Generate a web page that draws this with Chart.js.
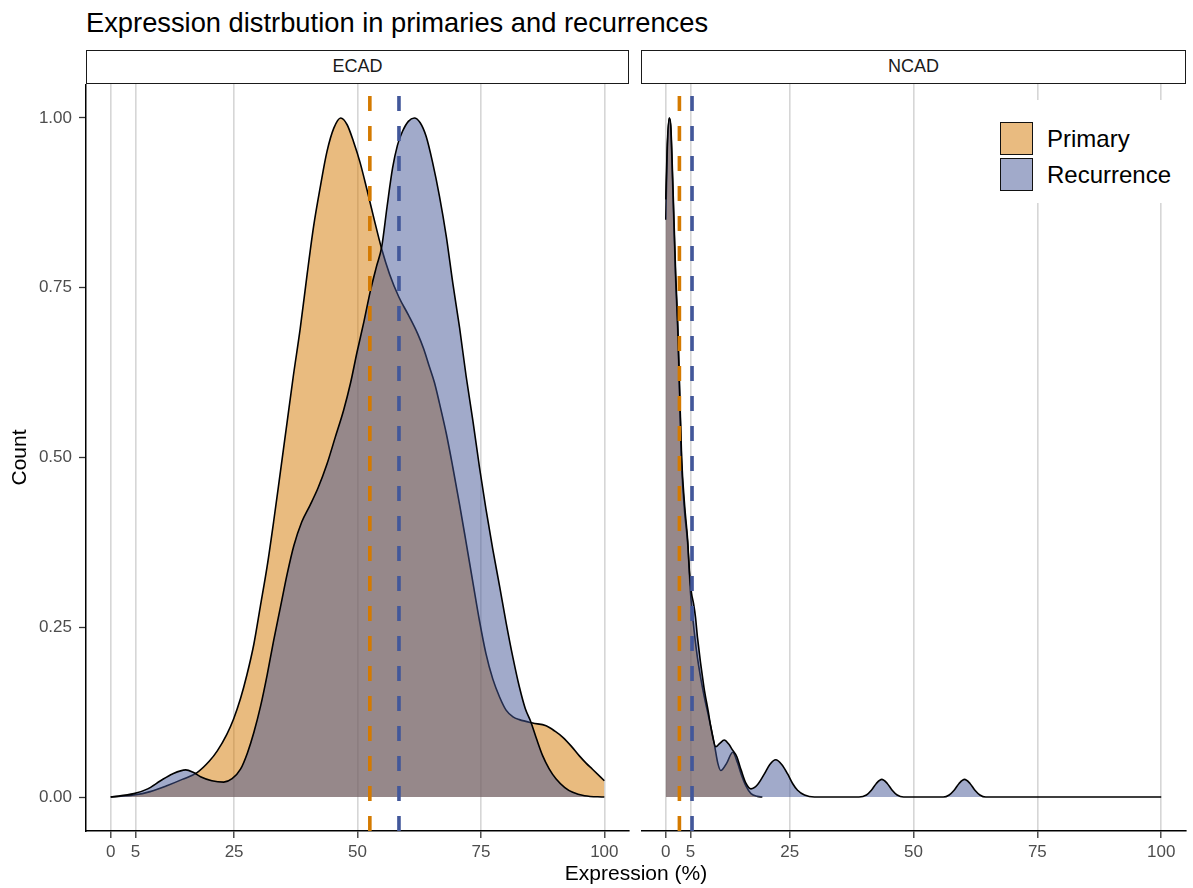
<!DOCTYPE html>
<html>
<head>
<meta charset="utf-8">
<script src="https://cdn.jsdelivr.net/npm/chart.js@4.4.1/dist/chart.umd.min.js"></script>
<style>
  body { margin: 0; background: #fff; font-family: "Liberation Sans", Arial, sans-serif; }
  #wrap { position: relative; width: 1193px; height: 888px; overflow: hidden; background: #fff; }
  #title { position: absolute; left: 86px; top: 9px; font-size: 27.3px; line-height: 27px; color: #000; white-space: nowrap; }
  .strip { position: absolute; top: 50px; height: 34px; box-sizing: border-box; border: 1.5px solid #1a1a1a;
           font-size: 18px; line-height: 31px; text-align: center; color: #1a1a1a; background: #fff; }
  #stripL { left: 86px; width: 543px; }
  #stripR { left: 641px; width: 545px; }
  canvas { position: absolute; top: 84px; }
  #ecadChart { left: 0; }
  #ncadChart { left: 641px; }
  #xTitle { position: absolute; left: 436px; width: 400px; top: 860px; text-align: center; font-size: 21px; line-height: 26px; color: #000; }
  #legend { position: absolute; left: 988px; top: 100px; width: 197px; height: 103px; background: #fff; }
  .key { position: absolute; left: 12px; width: 33px; height: 33px; box-sizing: border-box; border: 1.5px solid #111; }
  .lab { position: absolute; left: 59px; font-size: 24px; line-height: 33px; color: #000; white-space: nowrap; }
</style>
</head>
<body>
<div id="wrap">
  <div id="title">Expression distrbution in primaries and recurrences</div>
  <div class="strip" id="stripL">ECAD</div>
  <div class="strip" id="stripR">NCAD</div>
  <canvas id="ecadChart" width="640" height="804"></canvas>
  <canvas id="ncadChart" width="552" height="804"></canvas>
  <div id="xTitle">Expression (%)</div>
  <div id="legend">
    <div class="key" style="top:22px; background:rgb(233,187,128);"></div>
    <div class="lab" style="top:22px;">Primary</div>
    <div class="key" style="top:58px; background:rgb(161,170,202);"></div>
    <div class="lab" style="top:58px;">Recurrence</div>
  </div>
</div>
<script>
// density curves, [expression %, scaled density]
const ecadPrimary = [
  [0, 0], [4.7, 0.003], [8, 0.008], [11.5, 0.017], [14.5, 0.026], [17.5, 0.036], [20, 0.053],
  [21.6, 0.068], [23.5, 0.092], [24.9, 0.115], [26.3, 0.145], [27.6, 0.18], [29, 0.225],
  [30.3, 0.28], [31.7, 0.34], [33, 0.405], [34.4, 0.48], [35.7, 0.55], [37, 0.62], [38.4, 0.69],
  [39.8, 0.77], [41.1, 0.84], [42.5, 0.9], [43.8, 0.95], [45.2, 0.985], [46.6, 1.0], [47.9, 0.99],
  [49.2, 0.965], [50.5, 0.935], [51.9, 0.895], [53.4, 0.85], [54.9, 0.807], [56.5, 0.77],
  [58.4, 0.736], [60.3, 0.71], [62.2, 0.682], [63.4, 0.66], [64.5, 0.635], [65.6, 0.61],
  [66.6, 0.58], [68, 0.535], [69.3, 0.486], [70.7, 0.43], [72, 0.375], [73.4, 0.315],
  [74.7, 0.26], [76, 0.212], [77.4, 0.174], [78.8, 0.147], [80.1, 0.128], [81.5, 0.118],
  [82.8, 0.114], [85.5, 0.109], [88.2, 0.105], [90, 0.097], [91.6, 0.088], [93.3, 0.075],
  [94.9, 0.061], [96.3, 0.05], [97.6, 0.041], [100, 0.024]
];
const ecadRecurrence = [
  [0, 0], [4.7, 0.005], [7.5, 0.012], [10.1, 0.024], [12.5, 0.034], [15.2, 0.04], [16.8, 0.036],
  [18.2, 0.03], [20.5, 0.024], [22.9, 0.022], [24.6, 0.027], [26.3, 0.041], [27.7, 0.065],
  [29, 0.095], [30.4, 0.135], [31.7, 0.18], [33, 0.23], [34.4, 0.28], [35.8, 0.33], [37.1, 0.37],
  [38.7, 0.405], [40.4, 0.43], [42, 0.455], [43.8, 0.49], [45.5, 0.53], [47.2, 0.57],
  [48.6, 0.61], [49.9, 0.655], [51.3, 0.7], [52.6, 0.745], [53.8, 0.78], [54.9, 0.81],
  [56, 0.87], [57.1, 0.926], [58.1, 0.96], [59.1, 0.98], [60.3, 0.995], [61.5, 1.0],
  [62.7, 0.993], [63.9, 0.973], [65.2, 0.935], [66.6, 0.885], [68, 0.825], [69.3, 0.757],
  [70.7, 0.69], [72, 0.62], [73.4, 0.553], [74.7, 0.486], [76, 0.425], [77.4, 0.365],
  [78.8, 0.31], [80.1, 0.257], [81.5, 0.205], [82.8, 0.162], [84, 0.13], [85.1, 0.111],
  [86.3, 0.085], [87.5, 0.061], [88.8, 0.042], [90.2, 0.027], [92, 0.014], [93.6, 0.007],
  [96, 0.002], [100, 0]
];
const ncadPrimary = [
  [0, 0.85], [0.3, 0.95], [0.7, 1.0], [1.0, 0.985], [1.4, 0.9], [2.0, 0.76], [2.4, 0.69],
  [2.8, 0.59], [3.2, 0.49], [3.8, 0.42], [4.4, 0.375], [5.0, 0.3], [5.5, 0.26], [6.4, 0.205],
  [7.7, 0.15], [8.6, 0.12], [9.8, 0.078], [10.5, 0.05], [11.1, 0.039], [12.3, 0.05],
  [13.5, 0.066], [14.5, 0.05], [15.2, 0.034], [16.2, 0.016], [17.2, 0.005], [18.5, 0.001],
  [19.5, 0]
];
const ncadRecurrence = [
  [0, 0.88], [0.3, 0.96], [0.7, 1.0], [1.0, 0.99], [1.4, 0.91], [2.0, 0.77], [2.4, 0.7],
  [2.8, 0.6], [3.2, 0.5], [3.8, 0.43], [4.4, 0.38], [4.8, 0.33], [5.2, 0.3], [5.6, 0.285],
  [6.0, 0.265], [6.4, 0.235], [7.7, 0.162], [8.6, 0.125], [9.1, 0.103], [10.1, 0.074],
  [10.9, 0.079], [11.8, 0.084], [12.7, 0.078], [13.5, 0.069], [14.3, 0.06], [15.2, 0.04],
  [16.2, 0.02], [17.2, 0.012], [18.5, 0.018], [19.9, 0.034], [21, 0.048], [22.2, 0.055],
  [23.4, 0.048], [24.6, 0.034], [25.6, 0.02], [26.6, 0.01], [28, 0.003], [30, 0], [39, 0],
  [40.5, 0.003], [41.5, 0.01], [42.5, 0.02], [43.6, 0.026], [44.7, 0.02], [45.7, 0.01],
  [46.7, 0.003], [48, 0], [56, 0], [57.2, 0.003], [58.2, 0.01], [59.2, 0.02], [60.3, 0.026],
  [61.4, 0.02], [62.4, 0.01], [63.4, 0.003], [64.6, 0], [100, 0]
];

// group means (dashed lines): [primary, recurrence]
const ecadMeans = [52.5, 58.4];
const ncadMeans = [2.75, 5.3];

const xTicks = [0, 5, 25, 50, 75, 100];
const yTicks = [0, 0.25, 0.5, 0.75, 1.0];
const yMin = -0.05, yMax = 1.05;

const primaryFill = "rgba(211, 120, 0, 0.5)";
const recurrenceFill = "rgba(67, 85, 150, 0.5)";
const primaryLine = "#D47A00";
const recurrenceLine = "#42579A";

function densitySet(label, pts, fill, order) {
	return {
		label: label,
		data: pts.map(([x, y]) => ({ x: x, y: y })),
		borderColor: "#000",
		borderWidth: 1.6,
		backgroundColor: fill,
		fill: "origin",
		pointRadius: 0,
		cubicInterpolationMode: "monotone",
		order: order,
	};
}

function meanSet(label, x, color) {
	return {
		label: label,
		data: [{ x: x, y: yMin }, { x: x, y: yMax }],
		borderColor: color,
		borderWidth: 3.6,
		borderDash: [15, 15],
		pointRadius: 0,
		fill: false,
		order: 0,
	};
}

function makeChart(id, primary, recurrence, means, showY) {
	const ctx = document.getElementById(id).getContext("2d");
	return new Chart(ctx, {
		type: "line",
		data: {
			datasets: [
				meanSet("Primary mean", means[0], primaryLine),
				meanSet("Recurrence mean", means[1], recurrenceLine),
				densitySet("Recurrence", recurrence, recurrenceFill, 1),
				densitySet("Primary", primary, primaryFill, 2),
			],
		},
		options: {
			responsive: false,
			animation: false,
			layout: { padding: { top: 0, right: showY ? 11 : 7, bottom: 0, left: 0 } },
			plugins: { legend: { display: false }, tooltip: { enabled: false } },
			scales: {
				x: {
					type: "linear",
					min: -5,
					max: 105,
					afterBuildTicks: (scale) => { scale.ticks = xTicks.map((v) => ({ value: v })); },
					afterFit: (scale) => {
						scale.height = 57;
						scale.paddingLeft = 0;
						scale.paddingRight = 0;
					},
					ticks: {
						color: "#4d4d4d",
						font: { family: "Liberation Sans", size: 17 },
						padding: 4,
						maxRotation: 0,
						autoSkip: false,
					},
					grid: { color: "#d6d6d6", lineWidth: 1.6, tickColor: "#333", tickLength: 7, tickWidth: 1.3 },
					border: { display: true, color: "#000", width: 1.5 },
				},
				y: {
					display: showY,
					min: yMin,
					max: yMax,
					afterBuildTicks: (scale) => { scale.ticks = yTicks.map((v) => ({ value: v })); },
					afterFit: (scale) => {
						scale.width = showY ? 86 : 0;
						scale.paddingTop = 0;
						scale.paddingBottom = 0;
					},
					ticks: {
						color: "#4d4d4d",
						font: { family: "Liberation Sans", size: 17 },
						padding: 7,
						callback: (v) => Number(v).toFixed(2),
					},
					grid: { drawOnChartArea: false, tickColor: "#333", tickLength: 7, tickWidth: 1.3 },
					border: { display: true, color: "#000", width: 1.5 },
					title: {
						display: true,
						text: "Count",
						color: "#000",
						font: { family: "Liberation Sans", size: 21 },
						padding: { top: 8, bottom: 0 },
					},
				},
			},
		},
	});
}

makeChart("ecadChart", ecadPrimary, ecadRecurrence, ecadMeans, true);
makeChart("ncadChart", ncadPrimary, ncadRecurrence, ncadMeans, false);
</script>
</body>
</html>
